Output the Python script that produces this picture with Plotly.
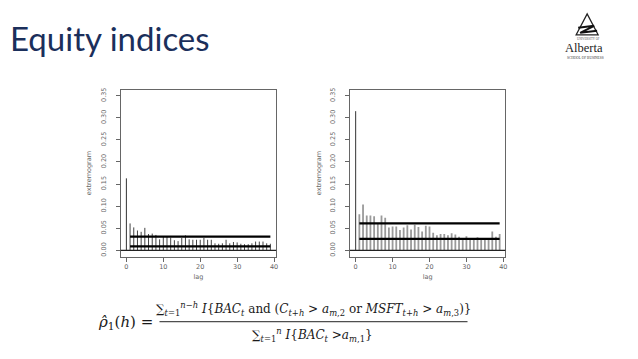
import plotly.graph_objects as go

# ---------------- data ----------------
lags = list(range(0, 40))
left_vals = [0.163, 0.061, 0.052, 0.045, 0.042, 0.051, 0.037, 0.038, 0.035, 0.025,
             0.031, 0.031, 0.029, 0.023, 0.021, 0.028, 0.034, 0.025, 0.024, 0.024,
             0.024, 0.028, 0.024, 0.024, 0.016, 0.015, 0.016, 0.024, 0.016, 0.019,
             0.018, 0.015, 0.014, 0.014, 0.016, 0.020, 0.020, 0.020, 0.016, 0.015]
right_vals = [0.315, 0.082, 0.104, 0.079, 0.079, 0.077, 0.062, 0.079, 0.074, 0.052,
              0.054, 0.054, 0.046, 0.052, 0.057, 0.047, 0.058, 0.053, 0.043, 0.056,
              0.054, 0.040, 0.034, 0.037, 0.037, 0.034, 0.039, 0.036, 0.031, 0.026,
              0.032, 0.024, 0.024, 0.030, 0.028, 0.027, 0.024, 0.043, 0.031, 0.037]
left_band = [0.009, 0.031]     # lower, upper confidence bands
right_band = [0.026, 0.061]
y_ticks = [0.00, 0.05, 0.10, 0.15, 0.20, 0.25, 0.30, 0.35]
y_ticklabels = ["0.00", "0.05", "0.10", "0.15", "0.20", "0.25", "0.30", "0.35"]
x_ticks = [0, 10, 20, 30, 40]
band_lags = [1, 39]

fig = go.Figure()

def stems(xs, ys):
    X, Y = [], []
    for x, y in zip(xs, ys):
        X += [x, x, None]
        Y += [0, y, None]
    return X, Y

panels = [("x", "y", left_vals, left_band, "#444444", 1.0),
          ("x2", "y2", right_vals, right_band, "#9a9a9a", 1.8)]
for xa, ya, vals, band, col, w in panels:
    X0, Y0 = stems(lags[:1], vals[:1])
    fig.add_trace(go.Scatter(x=X0, y=Y0, mode="lines", xaxis=xa, yaxis=ya,
                             line=dict(color="#333333", width=1), hoverinfo="skip"))
    X, Y = stems(lags[1:], vals[1:])
    fig.add_trace(go.Scatter(x=X, y=Y, mode="lines", xaxis=xa, yaxis=ya,
                             line=dict(color=col, width=w), hoverinfo="skip"))
    for b in band:
        fig.add_trace(go.Scatter(x=band_lags, y=[b, b], mode="lines", xaxis=xa, yaxis=ya,
                                 line=dict(color="black", width=2.2), hoverinfo="skip"))

W, H = 638, 359
def px(v): return v / W
def py(v): return 1 - v / H

axfont = dict(family="DejaVu Sans", size=6.5, color="#666666")
common_x = dict(range=[-1.56, 40.56], tickvals=x_ticks, ticks="outside", ticklen=4,
                tickcolor="#666", showline=True, mirror=True, linecolor="#666", linewidth=1,
                showgrid=False, zeroline=False, tickfont=axfont,
                title=dict(text="lag", font=axfont, standoff=4))
common_y = dict(range=[-0.014, 0.364], tickvals=y_ticks, ticktext=y_ticklabels, ticks="outside",
                ticklen=4, tickcolor="#666", showline=True, mirror=True, linecolor="#666",
                linewidth=1, showgrid=False, zeroline=False, tickangle=-90, tickfont=axfont,
                ticklabelstandoff=7,
                title=dict(text="extremogram", font=axfont, standoff=7))

fig.update_layout(
    width=W, height=H, margin=dict(l=0, r=0, t=0, b=0),
    paper_bgcolor="white", plot_bgcolor="white", showlegend=False,
    xaxis=dict(domain=[px(121), px(277)], anchor="y", **common_x),
    yaxis=dict(domain=[py(256), py(88)], anchor="x", **common_y),
    xaxis2=dict(domain=[px(351), px(507)], anchor="y2", **common_x),
    yaxis2=dict(domain=[py(256), py(88)], anchor="x2", **common_y),
)

for xr, yr in [("x domain", "y"), ("x2 domain", "y2")]:
    fig.add_shape(type="line", xref=xr, yref=yr, x0=0, x1=1, y0=0, y1=0,
                  line=dict(color="#222", width=1.2))

def note(text, x, y, font, xanchor="center", yanchor="middle"):
    fig.add_annotation(text=text, xref="paper", yref="paper", x=px(x), y=py(y),
                       xanchor=xanchor, yanchor=yanchor, showarrow=False, font=font,
                       borderpad=0)

# slide title
note("Equity indices", 9, 36, dict(family="Lato", size=33, color="#1B2F5B"), xanchor="left")

# logo
fig.add_shape(type="path", xref="paper", yref="paper",
              path=f"M {px(578)},{py(33)} L {px(589)},{py(12)} L {px(600)},{py(33)} Z",
              line=dict(color="#222", width=1.3))
fig.add_shape(type="path", xref="paper", yref="paper",
              path=f"M {px(580)},{py(26)} L {px(596)},{py(24)} L {px(582)},{py(31)} L {px(599)},{py(29)}",
              line=dict(color="#111", width=2))
note("UNIVERSITY OF", 590, 37, dict(family="Liberation Serif", size=3, color="#555"))
note("Alberta", 586, 46.5, dict(family="Liberation Serif", size=12.5, color="#222"))
note("SCHOOL OF BUSINESS", 587, 56, dict(family="Liberation Serif", size=3.5, color="#333"))

# formula
ff = dict(family="DejaVu Serif", size=12, color="#1a1a1a")
note("<i>ρ̂</i><sub>1</sub>(<i>h</i>) =", 97, 322,
     dict(family="DejaVu Serif", size=15, color="#1a1a1a"), xanchor="left")
note("∑<sub><i>t</i>=1</sub><sup><i>n</i>−<i>h</i></sup> <i>I</i>{<i>BAC<sub>t</sub></i> and (<i>C</i><sub><i>t</i>+<i>h</i></sub> &gt; <i>a</i><sub><i>m</i>,2</sub> or <i>MSFT</i><sub><i>t</i>+<i>h</i></sub> &gt; <i>a</i><sub><i>m</i>,3</sub>)}",
     314, 309, ff)
fig.add_shape(type="line", xref="paper", yref="paper", x0=px(160), x1=px(469),
              y0=py(321.5), y1=py(321.5), line=dict(color="#222", width=1))
note("∑<sub><i>t</i>=1</sub><sup><i>n</i></sup> <i>I</i>{<i>BAC<sub>t</sub></i> &gt;<i>a</i><sub><i>m</i>,1</sub>}",
     313, 335, ff)

fig.write_html("out.html", config={"displayModeBar": False},
               post_script="document.body.style.margin='0';document.body.style.overflow='hidden';")
